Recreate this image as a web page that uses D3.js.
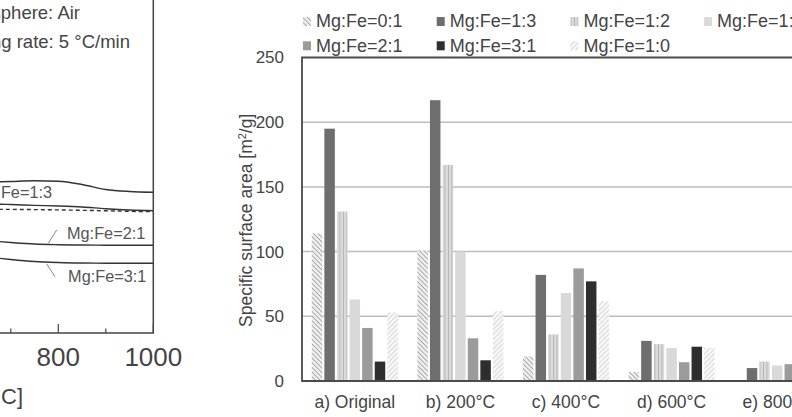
<!DOCTYPE html>
<html>
<head>
<meta charset="utf-8">
<script src="https://cdn.jsdelivr.net/npm/d3@7"></script>
<style>
  body { margin: 0; background: #fff; }
  svg { display: block; font-family: "Liberation Sans", Arial, sans-serif; }
</style>
</head>
<body>
<svg id="chart" width="792" height="417"></svg>
<script>
"use strict"

// ---- bar chart data (specific surface area, m2/g) ----
const groups = ["a) Original", "b) 200°C", "c) 400°C", "d) 600°C", "e) 800°C"];
const ratios = ["Mg:Fe=0:1", "Mg:Fe=1:3", "Mg:Fe=1:2", "Mg:Fe=1:1", "Mg:Fe=2:1", "Mg:Fe=3:1", "Mg:Fe=1:0"];
const v01 = [114, 101, 19, 7, 0];
const v13 = [195, 217, 82, 31, 10];
const v12 = [131, 167, 36, 28.5, 15];
const v11 = [63, 100, 68, 25.5, 12];
const v21 = [41, 33, 87, 14.5, 13];
const v31 = [15, 16, 77, 26.5, 12];
const v10 = [53, 54, 61.5, 25.5, 11];
const yTicks = [0, 50, 100, 150, 200, 250];

// ---- TG curves (left panel, cut off) ----
const temps = [660, 700, 750, 800, 850, 900, 950, 1000];
const tgA = [72.67, 72.75, 72.85, 72.78, 72.30, 71.55, 71.25, 71.13];
const tgB = [69.37, 69.29, 69.17, 69.07, 68.92, 68.66, 68.47, 68.36];
const tgC = [68.57, 68.56, 68.53, 68.48, 68.42, 68.35, 68.27, 68.21];
const tgD = [63.81, 63.59, 63.36, 63.26, 63.21, 63.18, 63.17, 63.17];
const tgE = [61.34, 61.04, 60.74, 60.59, 60.51, 60.48, 60.47, 60.47];
const tempTicks = [800, 1000];
const tempMinor = [700, 900];

const svg = d3.select("#chart");
const txt = "#444";

// patterns for the hatched bars
const defs = svg.append("defs");
function stripes(id, w, bg, fg, angle, sw) {
  let p = defs.append("pattern")
    .attr("id", id)
    .attr("patternUnits", "userSpaceOnUse")
    .attr("width", w).attr("height", w)
    .attr("patternTransform", `rotate(${angle})`);
  p.append("rect").attr("width", w).attr("height", w).attr("fill", bg);
  p.append("line").attr("x1", 0).attr("y1", 0).attr("x2", 0).attr("y2", w)
    .attr("stroke", fg).attr("stroke-width", sw);
}
stripes("h01", 3.3, "#eeeeee", "#929292", -45, 1.4);
stripes("h12", 3.5, "#dadada", "#a9a9a9", 0, 1.4);
stripes("h10", 3.4, "#f7f7f7", "#c9c9c9", 45, 1.3);

const fills = ["url(#h01)", "#6e6e6e", "url(#h12)", "#d9d9d9", "#9b9b9b", "#2e2e2e", "url(#h10)"];
const series = [v01, v13, v12, v11, v21, v31, v10];

// ======================================================================
// left panel: TG curves
const xT = d3.scaleLinear().domain([600, 1000]).range([-36.7, 153.3]);
const yW = d3.scaleLinear().domain([50, 100]).range([333, 0]);
const left = svg.append("g");

const line = d3.line().x(d => xT(d[0])).y(d => yW(d[1])).curve(d3.curveMonotoneX);
[tgA, tgB, tgC, tgD, tgE].forEach((s, i) => {
  left.append("path")
    .datum(temps.map((t, j) => [t, s[j]]))
    .attr("d", line)
    .attr("fill", "none")
    .attr("stroke", "#333")
    .attr("stroke-width", 1.4)
    .attr("stroke-dasharray", i == 2 ? "4,3" : null);
});

// frame (right and bottom)
left.append("path")
  .attr("d", `M${xT(1000)},0 V${yW(50)} H${xT(600)}`)
  .attr("fill", "none").attr("stroke", "#444").attr("stroke-width", 1.5);

tempTicks.forEach(t => {
  left.append("line").attr("x1", xT(t)).attr("x2", xT(t))
    .attr("y1", yW(50)).attr("y2", yW(50) - 9)
    .attr("stroke", "#444").attr("stroke-width", 1.2);
  left.append("text").attr("x", xT(t)).attr("y", 366)
    .attr("text-anchor", "middle").attr("font-size", "26px").attr("fill", txt)
    .text(t);
});
tempMinor.forEach(t => {
  left.append("line").attr("x1", xT(t)).attr("x2", xT(t))
    .attr("y1", yW(50)).attr("y2", yW(50) - 4.5)
    .attr("stroke", "#444").attr("stroke-width", 1.2);
});

left.append("text").attr("x", 23).attr("y", 404).attr("text-anchor", "end")
  .attr("font-size", "22px").attr("fill", txt).text("Temperature [°C]");

left.append("text").attr("x", 80).attr("y", 18.5).attr("text-anchor", "end")
  .attr("font-size", "18.5px").attr("fill", txt).text("Atmosphere: Air");
left.append("text").attr("x", 130).attr("y", 47.5).attr("text-anchor", "end")
  .attr("font-size", "18.5px").attr("fill", txt).text("Heating rate: 5 °C/min");

// curve labels and leaders
const lab = (x, y, anchor, s) => left.append("text").attr("x", xT(x)).attr("y", yW(y))
  .attr("text-anchor", anchor).attr("font-size", "16.3px").attr("fill", "#555").text(s);
lab(786.9, 70.27, "end", "Mg:Fe=1:3");
lab(818.3, 64.11, "start", "Mg:Fe=2:1");
lab(820.6, 57.66, "start", "Mg:Fe=3:1");
const lead = (t1, w1, t2, w2) => left.append("line")
  .attr("x1", xT(t1)).attr("y1", yW(w1)).attr("x2", xT(t2)).attr("y2", yW(w2))
  .attr("stroke", "#888").attr("stroke-width", 1);
lead(778.9, 63.47, 796.6, 65.47);
lead(775.6, 60.36, 793.1, 58.45);

// ======================================================================
// right panel: bar chart
const x0 = d3.scaleBand().domain(groups).range([302, 830]);
const x1 = d3.scaleBand().domain(ratios).range([0, x0.bandwidth()])
  .paddingInner(0.167).paddingOuter(0.774);
const y = d3.scaleLinear().domain([0, 250]).range([381, 57.5]);

const g = svg.append("g");

// gridlines
g.selectAll(".grid").data(yTicks.slice(1, -1)).enter().append("line")
  .attr("x1", 302).attr("x2", 792)
  .attr("y1", d => y(d)).attr("y2", d => y(d))
  .attr("stroke", "#bdbdbd").attr("stroke-width", 1.5);

// bars
series.forEach((s, i) => {
  g.selectAll(".bar" + i).data(s).enter().append("rect")
    .attr("x", (d, j) => x0(groups[j]) + x1(ratios[i]))
    .attr("y", d => y(d))
    .attr("width", x1.bandwidth())
    .attr("height", d => y(0) - y(d))
    .attr("fill", fills[i]);
});

// frame
g.append("path")
  .attr("d", `M800,${y(250)} H${x0.range()[0]} V${y(0)} H800`)
  .attr("fill", "none").attr("stroke", "#4a4a4a").attr("stroke-width", 1.8);

// y axis
const yAxis = g.append("g")
  .attr("transform", "translate(302,0)")
  .call(d3.axisLeft(y).tickValues(yTicks).tickSize(0).tickPadding(18));
yAxis.select(".domain").remove();
yAxis.selectAll("text").attr("font-size", "17px").attr("fill", txt)
  .attr("font-family", "Liberation Sans, Arial, sans-serif");

// x axis labels
const xAxis = g.append("g")
  .attr("transform", `translate(0,${y(0)})`)
  .call(d3.axisBottom(x0).tickSize(0).tickPadding(15));
xAxis.select(".domain").remove();
xAxis.selectAll("text").attr("font-size", "17.5px").attr("fill", txt)
  .attr("font-family", "Liberation Sans, Arial, sans-serif");

// y axis title
const yt = g.append("text")
  .attr("transform", "translate(252,327) rotate(-90)")
  .attr("font-size", "17.5px").attr("fill", txt);
yt.append("tspan").text("Specific surface area [m");
yt.append("tspan").attr("baseline-shift", "super").attr("font-size", "11px").text("2");
yt.append("tspan").text("/g]");

// legend
const leg = g.append("g");
ratios.forEach((r, i) => {
  let col = i < 4 ? i : i - 4;
  let row = i < 4 ? 0 : 1;
  let lx = 303 + col * 133.7;
  let ly = 17 + row * 24.3;
  leg.append("rect").attr("x", lx).attr("y", ly).attr("width", 8).attr("height", 9)
    .attr("fill", fills[i]);
  leg.append("text").attr("x", lx + 13).attr("y", ly + 10.3)
    .attr("font-size", "18px").attr("fill", txt).text(r);
});
</script>
</body>
</html>
